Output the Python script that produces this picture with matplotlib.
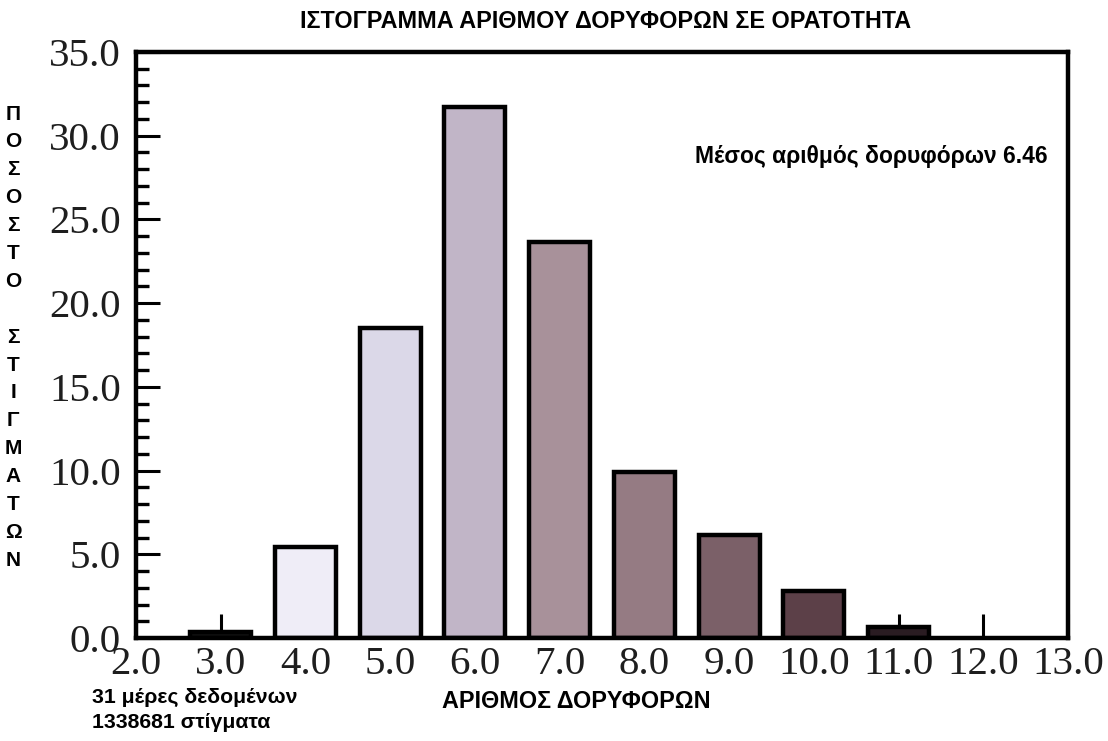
import numpy as np
import matplotlib.pyplot as plt
from matplotlib.ticker import MultipleLocator, FormatStrFormatter

# satellites in view vs percentage of fixes
sats = [3, 4, 5, 6, 7, 8, 9, 10, 11]
percent = [0.35, 5.45, 18.5, 31.7, 23.65, 9.9, 6.15, 2.8, 0.65]
bar_colors = ['#111111', '#efedf7', '#dbd8e8', '#c1b5c7', '#a8919a',
              '#957b83', '#7b6068', '#5c4048', '#2a1c22']

title = 'ΙΣΤΟΓΡΑΜΜΑ ΑΡΙΘΜΟΥ ΔΟΡΥΦΟΡΩΝ ΣΕ ΟΡΑΤΟΤΗΤΑ'
xlabel = 'ΑΡΙΘΜΟΣ ΔΟΡΥΦΟΡΩΝ'
ylabel = 'ΠΟΣΟΣΤΟ ΣΤΙΓΜΑΤΩΝ'
mean_text = 'Μέσος αριθμός δορυφόρων 6.46'
info_lines = ['31 μέρες δεδομένων', '1338681 στίγματα']

W, H = 1108, 741
fig = plt.figure(figsize=(W / 100, H / 100), dpi=100)
ax = fig.add_axes([136 / W, 1 - 638 / H, (1068 - 136) / W, (638 - 52) / H])

# bars drawn over the inward ticks
ax.set_axisbelow(True)
ax.bar(sats, percent, width=0.72, color=bar_colors, edgecolor='black',
       linewidth=3.2, zorder=2)

ax.set_xlim(2, 13)
ax.set_ylim(0, 35)
ax.xaxis.set_major_locator(MultipleLocator(1))
ax.yaxis.set_major_locator(MultipleLocator(5))
ax.yaxis.set_minor_locator(MultipleLocator(1))
ax.xaxis.set_major_formatter(FormatStrFormatter('%.1f'))
ax.yaxis.set_major_formatter(FormatStrFormatter('%.1f'))

ax.tick_params(axis='both', which='major', direction='in', length=17, width=2.2,
               labelsize=29.5, labelcolor='#1e1e1e')
ax.tick_params(axis='y', which='major', pad=11)
ax.tick_params(axis='x', which='major', pad=6)
ax.tick_params(axis='y', which='minor', direction='in', length=9, width=2.4)
ax.tick_params(axis='x', which='minor', bottom=False)
for lab in ax.get_xticklabels() + ax.get_yticklabels():
    lab.set_fontfamily('Liberation Serif')

for sp in ax.spines.values():
    sp.set_linewidth(3.2)

bold = dict(family='Liberation Sans', fontweight='bold', color='black')

fig.text(606 / W, 1 - 22 / H, title, ha='center', va='center', fontsize=16.8, **bold)
fig.text(1048 / W, 1 - 157 / H, mean_text, ha='right', va='center', fontsize=16.5, **bold)
fig.text(576 / W, 1 - 701 / H, xlabel, ha='center', va='center', fontsize=16.8, **bold)
fig.text(92 / W, 1 - 697 / H, info_lines[0], ha='left', va='center', fontsize=15.3, **bold)
fig.text(92 / W, 1 - 722 / H, info_lines[1], ha='left', va='center', fontsize=15.3, **bold)

# stacked vertical label, one letter per row
y0, step = 114, 27.9
for i, ch in enumerate(ylabel):
    if ch == ' ':
        continue
    fig.text(13 / W, 1 - (y0 + i * step) / H, ch, ha='center', va='center',
             fontsize=15, **bold)

fig.savefig('out.png', dpi=100, facecolor='white')
